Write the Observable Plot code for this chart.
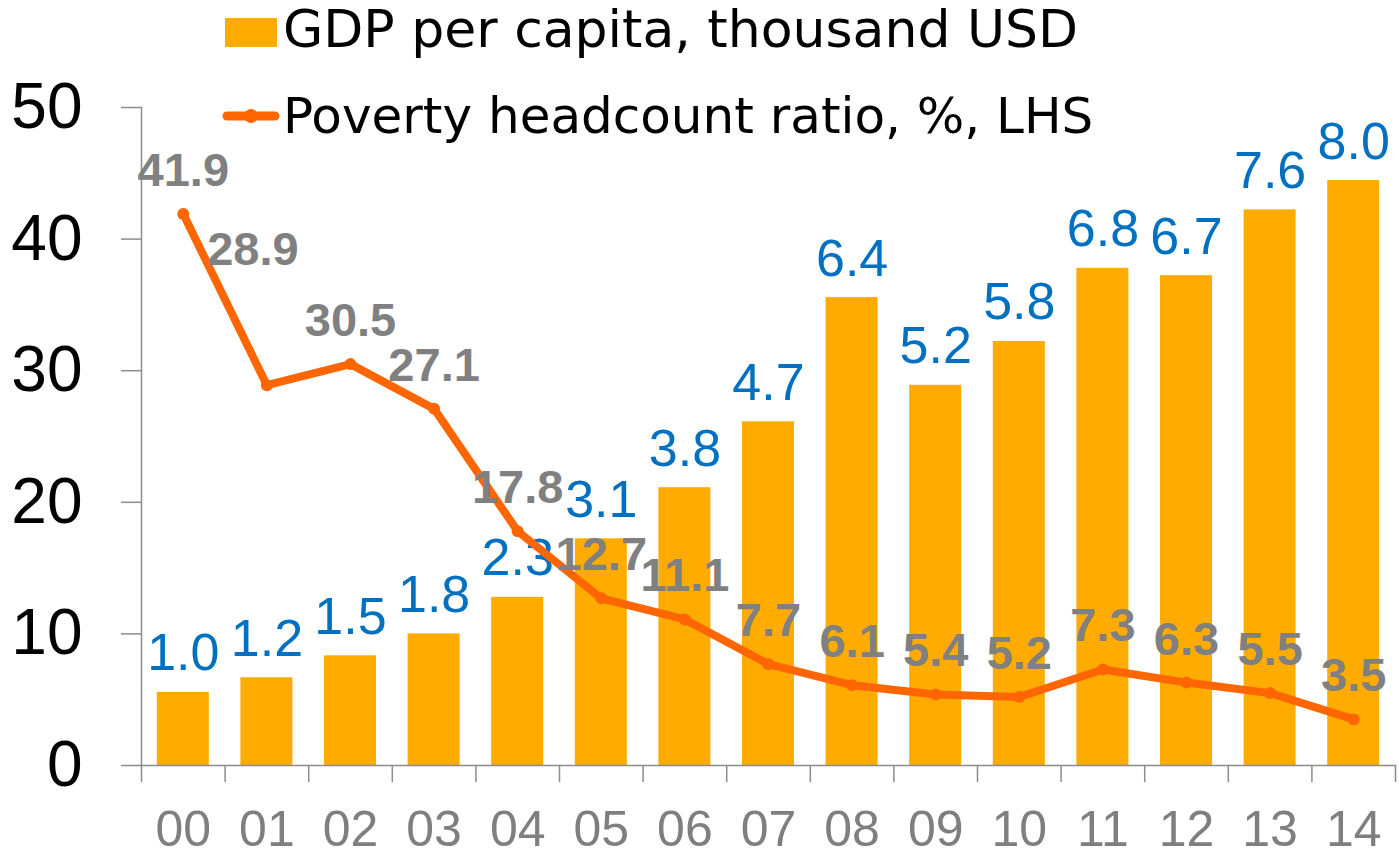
<!DOCTYPE html>
<html>
<head>
<meta charset="utf-8">
<script src="https://cdn.jsdelivr.net/npm/d3@7"></script>
<script src="https://cdn.jsdelivr.net/npm/@observablehq/plot@0.6"></script>
<style>
  body { margin: 0; background: #ffffff; }
  #wrap { position: relative; width: 1399px; height: 857px; overflow: hidden; }
  #legend { position: absolute; left: 0; top: 0; }
</style>
</head>
<body>
<div id="wrap">
  <div id="chart"></div>
  <svg id="legend" width="1399" height="150"></svg>
</div>
<script>
// ---- data ----
const years = ["00","01","02","03","04","05","06","07","08","09","10","11","12","13","14"];
const gdpPerCapita = [1.0, 1.2, 1.5, 1.8, 2.3, 3.1, 3.8, 4.7, 6.4, 5.2, 5.8, 6.8, 6.7, 7.6, 8.0];
const povertyRatio = [41.9, 28.9, 30.5, 27.1, 17.8, 12.7, 11.1, 7.7, 6.1, 5.4, 5.2, 7.3, 6.3, 5.5, 3.5];
const leftTicks = [0, 10, 20, 30, 40, 50];
const leftMax = 50;      // LHS axis maximum (poverty, %)
const rightMax = 9;      // hidden secondary axis maximum (GDP, thousand USD)
const legendGdp = "GDP per capita, thousand USD";
const legendPoverty = "Poverty headcount ratio, %, LHS";

// ---- colours ----
const barColor = "#FFAB00";
const lineColor = "#FF6600";
const blueLabel = "#0070C0";
const grayLabel = "#808080";
const axisColor = "#8C8C8C";

const rows = years.map((year, i) => ({year, i, gdp: gdpPerCapita[i], poverty: povertyRatio[i]}));
const toLeft = v => v * leftMax / rightMax;

const W = 1399, H = 857, mL = 141, mR = 4, mT = 107, mB = 92;
const halfStep = (W - mL - mR) / years.length / 2;

const chart = Plot.plot({
  width: W, height: H,
  marginTop: mT, marginBottom: mB, marginLeft: mL, marginRight: mR,
  style: {fontFamily: "'Liberation Sans', Arial, sans-serif", background: "#ffffff", overflow: "visible"},
  x: {type: "band", domain: years, paddingInner: 0.378, paddingOuter: 0.189, round: false, axis: null},
  y: {domain: [0, leftMax], axis: null},
  marks: [
    Plot.barY(rows, {x: "year", y: d => toLeft(d.gdp), fill: barColor}),
    Plot.text(rows, {x: "year", y: d => toLeft(d.gdp), text: d => d.gdp.toFixed(1),
      lineAnchor: "bottom", dy: -22, fill: blueLabel, fontSize: 52}),
    Plot.frame({anchor: "left", stroke: axisColor, strokeWidth: 1.5}),
    Plot.frame({anchor: "bottom", stroke: axisColor, strokeWidth: 1.5}),
    Plot.axisY({ticks: leftTicks, tickSize: 20, tickPadding: 39, fontSize: 64,
      stroke: axisColor, strokeWidth: 1.5, fill: "#000000", label: null}),
    Plot.axisX({tickSize: 0, tickPadding: 45, fontSize: 50, fill: "#7F7F7F", label: null}),
    Plot.ruleX(years, {x: d => d, dx: -halfStep, y1: 0, y2: -1.3, stroke: axisColor, strokeWidth: 1.5}),
    Plot.ruleX(years.slice(-1), {x: d => d, dx: halfStep, y1: 0, y2: -1.3, stroke: axisColor, strokeWidth: 1.5}),
    Plot.lineY(rows, {x: "year", y: "poverty", stroke: lineColor, strokeWidth: 8, strokeLinejoin: "round", strokeLinecap: "round"}),
    Plot.dot(rows, {x: "year", y: "poverty", r: 6, fill: lineColor}),
    Plot.text(rows.filter(d => d.i !== 1), {x: "year", y: "poverty", text: d => d.poverty.toFixed(1),
      lineAnchor: "bottom", dy: -28, fill: grayLabel, fontWeight: "bold", fontSize: 47}),
    Plot.text(rows.filter(d => d.i === 1), {x: "year", y: "poverty", text: d => d.poverty.toFixed(1),
      lineAnchor: "bottom", dx: -14, dy: -120, fill: grayLabel, fontWeight: "bold", fontSize: 47})
  ]
});
document.getElementById("chart").appendChild(chart);

// ---- legend (overlay) ----
const lg = d3.select("#legend");
const lf = "'DejaVu Sans', sans-serif";
lg.append("rect").attr("x", 225).attr("y", 18).attr("width", 52).attr("height", 29).attr("fill", barColor);
lg.append("text").attr("x", 283).attr("y", 47).attr("font-family", lf).attr("font-size", 52).attr("fill", "#000").text(legendGdp);
lg.append("line").attr("x1", 227).attr("x2", 275).attr("y1", 116).attr("y2", 116)
  .attr("stroke", lineColor).attr("stroke-width", 9).attr("stroke-linecap", "round");
lg.append("circle").attr("cx", 251).attr("cy", 116).attr("r", 7).attr("fill", lineColor);
lg.append("text").attr("x", 283).attr("y", 133).attr("font-family", lf).attr("font-size", 50).attr("fill", "#000").text(legendPoverty);
</script>
</body>
</html>
